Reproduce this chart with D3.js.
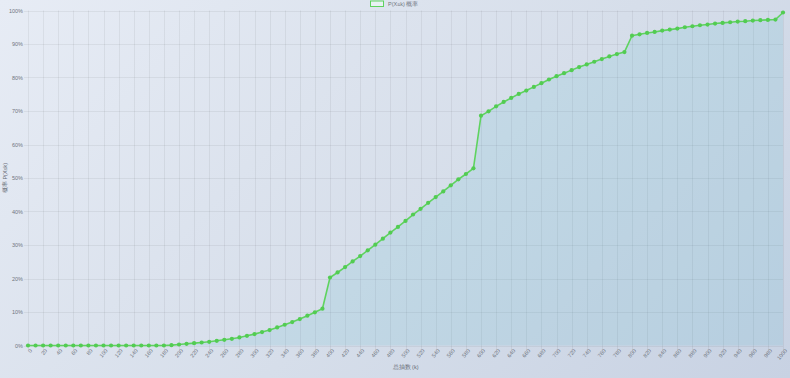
<!DOCTYPE html>
<html>
<head>
<meta charset="utf-8">
<script src="https://cdn.jsdelivr.net/npm/d3@7"></script>
<style>
  html, body { margin: 0; padding: 0; }
  body { width: 790px; height: 378px; overflow: hidden;
         background: linear-gradient(135deg, #e7ecf5 0%, #d6deea 55%, #c8d2e3 100%); }
  svg { display: block; font-family: "Liberation Sans", Arial, sans-serif; }
</style>
</head>
<body>
<div id="chart"></div>
<script>
// draws (k) on the x axis, every 10
var draws = [0, 10, 20, 30, 40, 50, 60, 70, 80, 90,
  100, 110, 120, 130, 140, 150, 160, 170, 180, 190,
  200, 210, 220, 230, 240, 250, 260, 270, 280, 290,
  300, 310, 320, 330, 340, 350, 360, 370, 380, 390,
  400, 410, 420, 430, 440, 450, 460, 470, 480, 490,
  500, 510, 520, 530, 540, 550, 560, 570, 580, 590,
  600, 610, 620, 630, 640, 650, 660, 670, 680, 690,
  700, 710, 720, 730, 740, 750, 760, 770, 780, 790,
  800, 810, 820, 830, 840, 850, 860, 870, 880, 890,
  900, 910, 920, 930, 940, 950, 960, 970, 980, 990, 1000];

// P(X<=k) in percent
var probability = [0, 0, 0, 0, 0, 0, 0, 0, 0, 0,
  0, 0, 0, 0, 0, 0, 0, 0, 0, 0.1,
  0.3, 0.5, 0.7, 0.9, 1.1, 1.4, 1.7, 2.0, 2.4, 2.9,
  3.4, 4.0, 4.6, 5.4, 6.2, 7.0, 7.9, 8.9, 9.9, 11.0,
  20.3, 21.8, 23.4, 25.1, 26.7, 28.4, 30.1, 31.9, 33.7, 35.4,
  37.2, 39.1, 40.8, 42.6, 44.3, 46.0, 47.8, 49.6, 51.2, 52.9,
  68.6, 69.9, 71.4, 72.7, 73.9, 75.1, 76.1, 77.2, 78.3, 79.4,
  80.4, 81.3, 82.2, 83.1, 83.9, 84.7, 85.5, 86.3, 87.0, 87.6,
  92.5, 92.9, 93.3, 93.6, 94.0, 94.3, 94.6, 95.0, 95.3, 95.6,
  95.8, 96.1, 96.3, 96.5, 96.7, 96.8, 97.0, 97.1, 97.2, 97.3, 99.4];

var xTickLabels = draws.filter(function(d, i) { return i % 2 === 0; });
var yTicks = [0, 10, 20, 30, 40, 50, 60, 70, 80, 90, 100];

var seriesName = "P(X≤k) 概率";
var xTitle = "总抽数 (k)";
var yTitle = "概率 P(X≤k)";

var width = 790, height = 378;
var margin = {top: 10.5, right: 7, bottom: 32.5, left: 28};

var svg = d3.select("#chart").append("svg")
    .attr("width", width)
    .attr("height", height);

var x = d3.scalePoint()
    .domain(draws)
    .range([margin.left, width - margin.right]);

var y = d3.scaleLinear()
    .domain([0, 100])
    .range([height - margin.bottom, margin.top]);

var data = draws.map(function(k, i) { return {k: k, p: probability[i]}; });

// grid
var grid = svg.append("g").attr("class", "grid");
grid.selectAll(".vline")
    .data(xTickLabels)
    .enter().append("line")
    .attr("x1", function(d) { return Math.round(x(d)) + 0.5; })
    .attr("x2", function(d) { return Math.round(x(d)) + 0.5; })
    .attr("y1", y(100))
    .attr("y2", y(0) + 4)
    .attr("stroke", "rgba(0,0,0,0.055)")
    .attr("stroke-width", 1);

grid.selectAll(".hline")
    .data(yTicks)
    .enter().append("line")
    .attr("x1", x(0) - 4)
    .attr("x2", x(1000))
    .attr("y1", function(d) { return Math.round(y(d)) + 0.5; })
    .attr("y2", function(d) { return Math.round(y(d)) + 0.5; })
    .attr("stroke", "rgba(0,0,0,0.055)")
    .attr("stroke-width", 1);

// area + line
var area = d3.area()
    .x(function(d) { return x(d.k); })
    .y0(y(0))
    .y1(function(d) { return y(d.p); });

var line = d3.line()
    .x(function(d) { return x(d.k); })
    .y(function(d) { return y(d.p); });

svg.append("path")
    .datum(data)
    .attr("d", area)
    .attr("fill", "rgba(80,180,200,0.15)");

svg.append("path")
    .datum(data)
    .attr("d", line)
    .attr("fill", "none")
    .attr("stroke", "#5fd35f")
    .attr("stroke-width", 1.6);

svg.selectAll(".dot")
    .data(data)
    .enter().append("circle")
    .attr("class", "dot")
    .attr("cx", function(d) { return x(d.k); })
    .attr("cy", function(d) { return y(d.p); })
    .attr("r", 2.1)
    .attr("fill", "#52cc52");

// y axis labels
var yAxis = d3.axisLeft(y)
    .tickValues(yTicks)
    .tickSize(0)
    .tickPadding(0)
    .tickFormat(function(d) { return d + "%"; });

svg.append("g")
    .attr("transform", "translate(" + (margin.left - 5) + ",0)")
    .call(yAxis)
    .call(function(g) { g.select(".domain").remove(); })
    .selectAll("text")
    .attr("font-size", "5.5px")
    .attr("fill", "#707680");

// x axis labels
var xAxis = d3.axisBottom(x)
    .tickValues(xTickLabels)
    .tickSize(0)
    .tickPadding(0);

svg.append("g")
    .attr("transform", "translate(0," + (height - margin.bottom + 4) + ")")
    .call(xAxis)
    .call(function(g) { g.select(".domain").remove(); })
    .selectAll("text")
    .attr("font-size", "5.5px")
    .attr("fill", "#707680")
    .attr("dy", "0.35em")
    .attr("x", 1.5)
    .attr("y", 2)
    .style("text-anchor", "end")
    .attr("transform", "rotate(-50)");

// axis titles
svg.append("text")
    .attr("x", (x(0) + x(1000)) / 2)
    .attr("y", 369)
    .attr("text-anchor", "middle")
    .attr("font-size", "5.5px")
    .attr("fill", "#666c76")
    .text(xTitle);

svg.append("text")
    .attr("transform", "translate(7," + ((y(0) + y(100)) / 2) + ") rotate(-90)")
    .attr("text-anchor", "middle")
    .attr("font-size", "5.5px")
    .attr("fill", "#666c76")
    .text(yTitle);

// legend
var legend = svg.append("g").attr("transform", "translate(370,0.5)");
legend.append("rect")
    .attr("x", 0.5)
    .attr("y", 0.5)
    .attr("width", 13)
    .attr("height", 5.5)
    .attr("fill", "rgba(235,245,245,0.8)")
    .attr("stroke", "#5fd35f")
    .attr("stroke-width", 1);
legend.append("text")
    .attr("x", 18)
    .attr("y", 3.5)
    .attr("dy", "0.35em")
    .attr("font-size", "5.5px")
    .attr("fill", "#707680")
    .text(seriesName);
</script>
</body>
</html>
